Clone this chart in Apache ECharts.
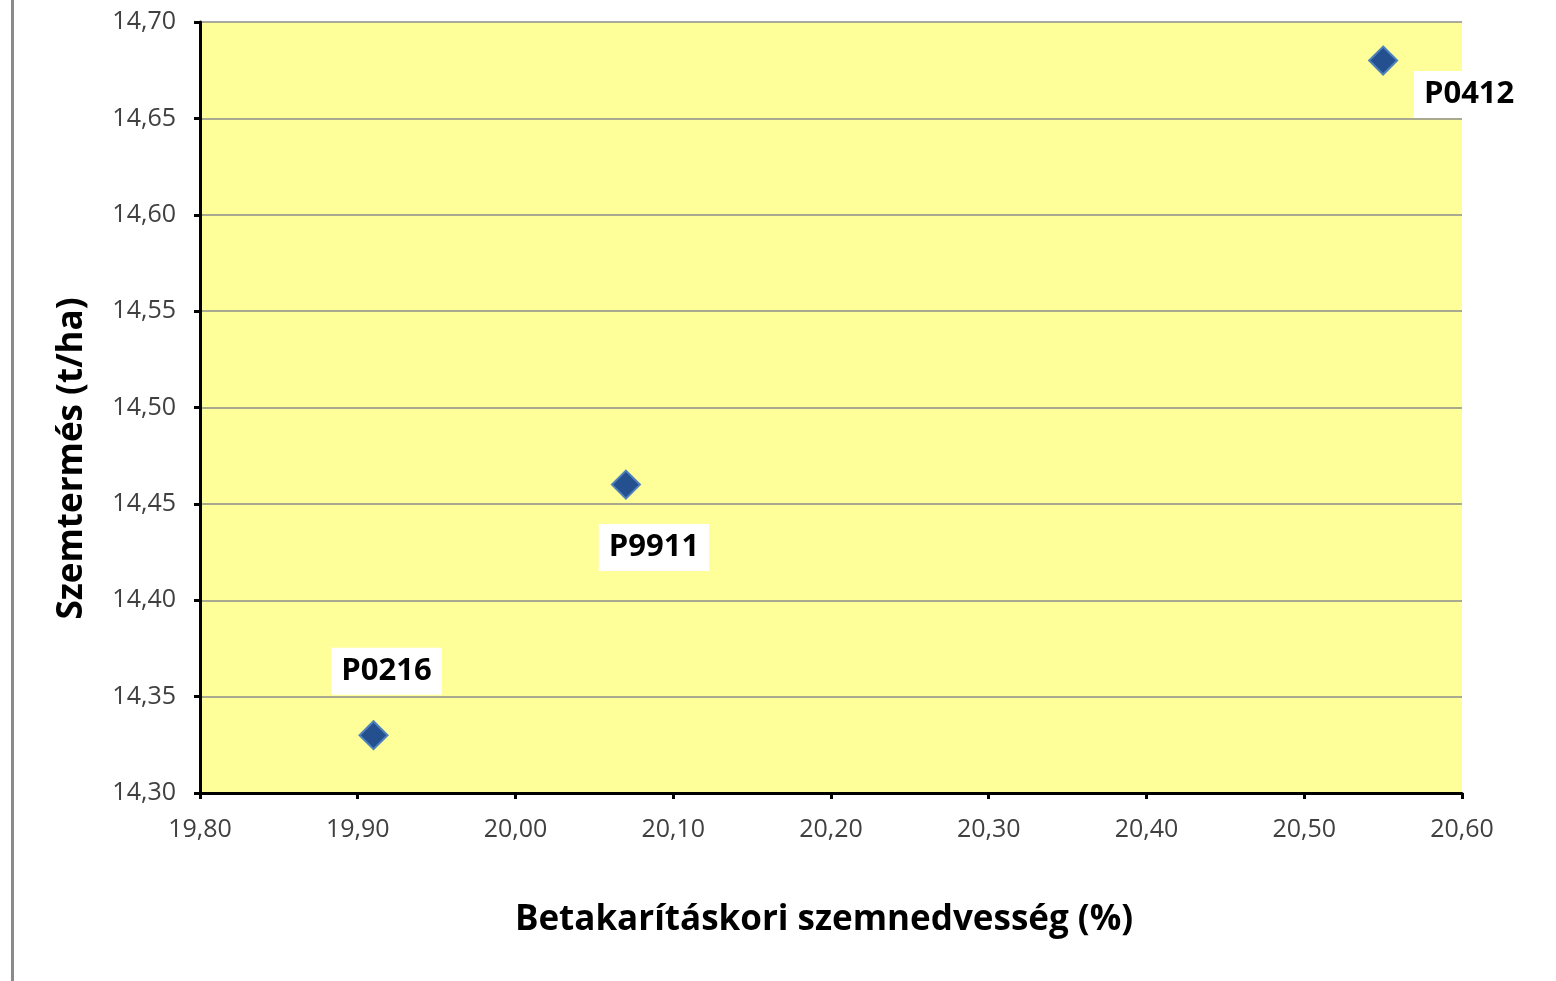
<!DOCTYPE html>
<html>
<head>
<meta charset="utf-8">
<script src="https://cdn.jsdelivr.net/npm/echarts@6/dist/echarts.min.js"></script>
<style>
html,body{margin:0;padding:0;background:#fff;}
#main{width:1556px;height:981px;}
</style>
</head>
<body>
<div id="main"></div>
<script>
const hybrids = ['P0216', 'P9911', 'P0412'];
const moisture = [19.91, 20.07, 20.55];
const yieldTHa = [14.33, 14.46, 14.68];
const xTicks = [19.8, 20.6, 0.1];
const yTicks = [14.3, 14.7, 0.05];
const xTitle = 'Betakarításkori szemnedvesség (%)';
const yTitle = 'Szemtermés (t/ha)';

const labelOffsets = [[13, -64], [28, 63], [86, 34]];
const fontFamily = '"Open Sans", "Noto Sans", sans-serif';

const data = hybrids.map((n, i) => ({
  name: n,
  value: [moisture[i], yieldTHa[i]],
  label: { offset: labelOffsets[i] }
}));

const fmt = v => v.toFixed(2).replace('.', ',');

const chart = echarts.init(document.getElementById('main'));
chart.setOption({
  animation: false,
  backgroundColor: '#fff',
  graphic: [{
    type: 'rect', left: 11, top: 0,
    shape: { width: 3, height: 981 },
    style: { fill: '#8a8a8a' }, silent: true
  }],
  grid: {
    left: 200, right: 94, top: 22, bottom: 188,
    show: true, backgroundColor: '#ffff99', borderWidth: 0
  },
  xAxis: {
    type: 'value', min: xTicks[0], max: xTicks[1], interval: xTicks[2],
    name: xTitle, nameLocation: 'middle', nameGap: 110,
    nameTextStyle: { fontFamily, fontSize: 35, fontWeight: 'bold', color: '#000', padding: [0, 14, 0, 0] },
    axisLine: { show: true, onZero: false, lineStyle: { color: '#000', width: 3 } },
    axisTick: { show: true, inside: false, length: 6, lineStyle: { color: '#000', width: 3 } },
    axisLabel: { formatter: fmt, fontFamily, fontSize: 25, color: '#404040', margin: 24 },
    splitLine: { show: false }
  },
  yAxis: {
    type: 'value', min: yTicks[0], max: yTicks[1], interval: yTicks[2],
    name: yTitle, nameLocation: 'middle', nameGap: 110,
    nameTextStyle: { fontFamily, fontSize: 35, fontWeight: 'bold', color: '#000', padding: [0, 102, 0, 0] },
    axisLine: { show: true, onZero: false, lineStyle: { color: '#000', width: 3 } },
    axisTick: { show: true, inside: false, length: 6, lineStyle: { color: '#000', width: 3 } },
    axisLabel: { formatter: fmt, fontFamily, fontSize: 25, color: '#404040', margin: 24 },
    splitLine: { show: true, lineStyle: { color: '#8c8c8c', width: 1.5 } }
  },
  series: [{
    type: 'scatter',
    data,
    symbol: 'diamond',
    symbolSize: [28, 28],
    itemStyle: { color: '#25508f', borderColor: '#4f81bd', borderWidth: 2, opacity: 1 },
    label: {
      show: true,
      formatter: p => p.name,
      position: 'inside',
      fontFamily, fontSize: 31, fontWeight: 'bold', color: '#000',
      backgroundColor: '#fff',
      padding: [8, 10, 8, 10]
    },
    z: 3
  }]
});
</script>
</body>
</html>
